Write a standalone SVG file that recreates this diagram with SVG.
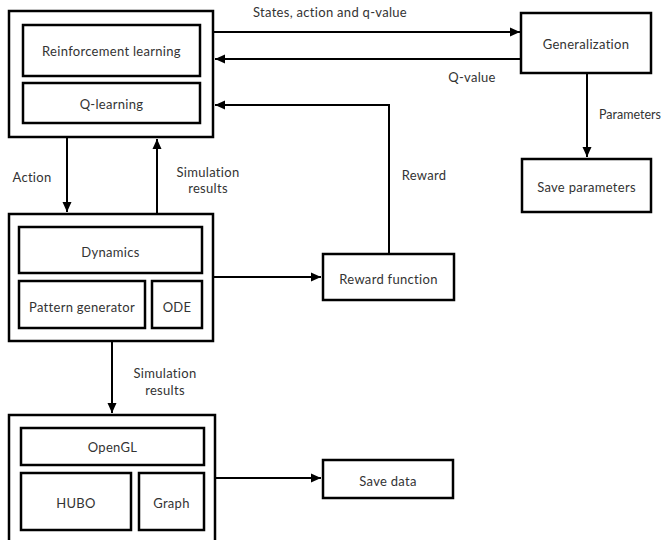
<svg xmlns="http://www.w3.org/2000/svg" width="666" height="540" viewBox="0 0 666 540">
<style>
.b{fill:#fff;stroke:#000;stroke-width:2.5}
.t{font-family:Lato,"Open Sans",sans-serif;font-size:13px;letter-spacing:0.3px;fill:#333;text-anchor:middle;dominant-baseline:central}
.l{fill:none;stroke:#000;stroke-width:2}
</style>
<defs>
<marker id="a" markerWidth="10" markerHeight="10" refX="10" refY="5" orient="auto" markerUnits="userSpaceOnUse">
<path d="M0,0.5L10,5L0,9.5z" fill="#000"/>
</marker>
</defs>
<rect width="666" height="540" fill="#fff"/>
<g id="rl-group">
<rect class="b" x="9" y="11" width="204" height="126"/>
<g id="rl"><rect class="b" x="23" y="25" width="177" height="51"/><text class="t" x="111.5" y="51">Reinforcement learning</text></g>
<g id="ql"><rect class="b" x="23" y="83" width="177" height="40"/><text class="t" x="111.5" y="104">Q-learning</text></g>
</g>
<g id="generalization"><rect class="b" x="521" y="13" width="130" height="60"/><text class="t" x="586" y="44">Generalization</text></g>
<g id="save-parameters"><rect class="b" x="522" y="159" width="129" height="53"/><text class="t" x="586.5" y="187">Save parameters</text></g>
<g id="sim-group">
<rect class="b" x="9" y="214" width="204" height="127"/>
<g id="dynamics"><rect class="b" x="19" y="227" width="183" height="46"/><text class="t" x="110.5" y="252">Dynamics</text></g>
<g id="pattern"><rect class="b" x="19" y="281" width="126" height="47"/><text class="t" x="82" y="307">Pattern generator</text></g>
<g id="ode"><rect class="b" x="152" y="281" width="50" height="47"/><text class="t" x="177" y="307">ODE</text></g>
</g>
<g id="reward-function"><rect class="b" x="323" y="254" width="131" height="46"/><text class="t" x="388.5" y="279">Reward function</text></g>
<g id="vis-group">
<rect class="b" x="9" y="415" width="206" height="130"/>
<g id="opengl"><rect class="b" x="21" y="428" width="183" height="37"/><text class="t" x="112.5" y="447">OpenGL</text></g>
<g id="hubo"><rect class="b" x="21" y="473" width="110" height="57"/><text class="t" x="76" y="503">HUBO</text></g>
<g id="graph"><rect class="b" x="139" y="473" width="65" height="57"/><text class="t" x="171.5" y="503">Graph</text></g>
</g>
<g id="save-data"><rect class="b" x="323" y="460" width="130" height="38"/><text class="t" x="388" y="481">Save data</text></g>
<g id="connectors">
<path class="l" d="M214,32H520" marker-end="url(#a)"/>
<path class="l" d="M520,59H215" marker-end="url(#a)"/>
<path class="l" d="M389,253V105H215" marker-end="url(#a)"/>
<path class="l" d="M587,74V157" marker-end="url(#a)"/>
<path class="l" d="M67,138V212" marker-end="url(#a)"/>
<path class="l" d="M157,213V139" marker-end="url(#a)"/>
<path class="l" d="M214,277H321" marker-end="url(#a)"/>
<path class="l" d="M112,342V413" marker-end="url(#a)"/>
<path class="l" d="M216,478H321" marker-end="url(#a)"/>
<text class="t" x="330" y="12">States, action and q-value</text>
<text class="t" x="472" y="77">Q-value</text>
<text class="t" x="424" y="175">Reward</text>
<text class="t" x="599" y="114" style="text-anchor:start;letter-spacing:0;font-size:12.5px">Parameters</text>
<text class="t" x="32" y="177">Action</text>
<text class="t" x="208" y="172">Simulation</text>
<text class="t" x="208" y="188">results</text>
<text class="t" x="165" y="373">Simulation</text>
<text class="t" x="165" y="390">results</text>
</g>
</svg>
